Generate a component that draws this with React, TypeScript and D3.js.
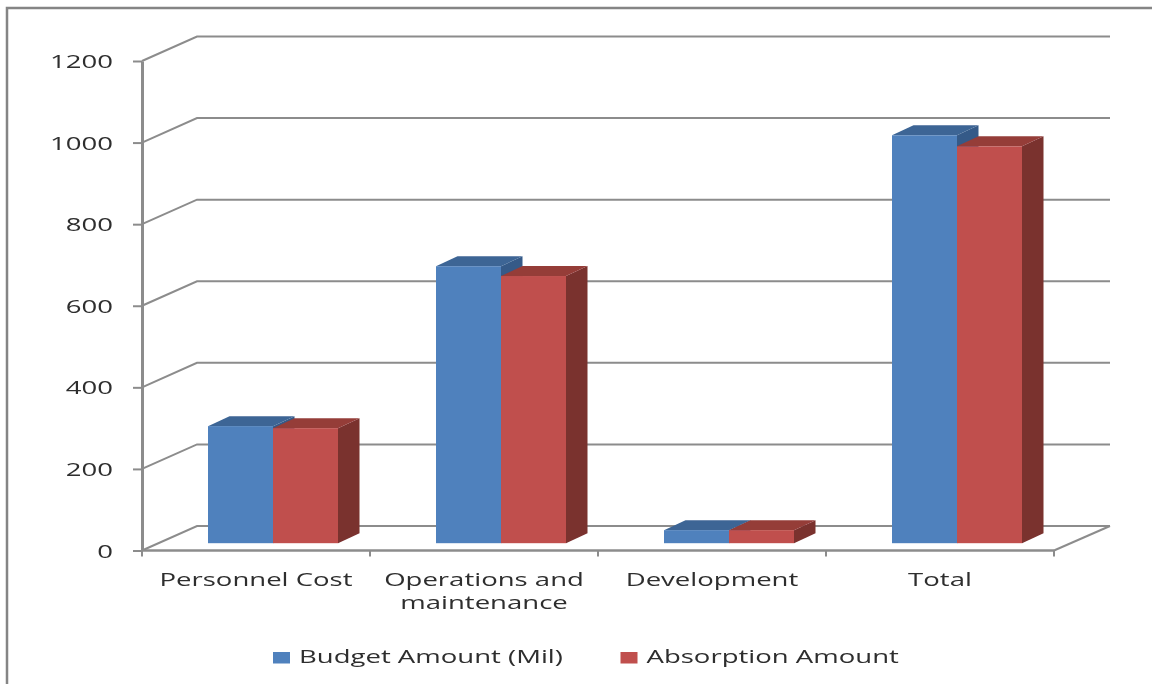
import React, { useEffect, useRef } from 'react';
import * as d3 from 'd3';

const categories = ['Personnel Cost', 'Operations and maintenance', 'Development', 'Total'];
const seriesNames = ['Budget Amount (Mil)', 'Absorption Amount'];
const budget = [287, 679, 32, 1000];
const absorption = [282, 655, 32, 973];
const yTicks = [0, 200, 400, 600, 800, 1000, 1200];
const frontColors = ['#4f81bd', '#c0504d'];
const topColors = ['#3c6595', '#953c39'];
const sideColors = ['#355a88', '#7a302e'];

const width = 1152;
const height = 684;
const depthX = 55;
const depthY = 24.5;
const barDepthX = 21.5;
const barDepthY = 10;
const barBaseOffset = 7.3;
const gridColor = '#8c8c8c';
const textColor = '#2e2e2e';
const font = '"Open Sans", sans-serif';
const stretch = 1.53;

function App() {
    const svgRef = useRef<SVGSVGElement>(null);

    useEffect(() => {
        const svg = d3.select(svgRef.current);
        svg.selectAll('*').remove();

        const defs = svg.append('defs');
        defs.append('filter').attr('id', 'soft')
            .append('feGaussianBlur').attr('stdDeviation', 0.7);

        const root = svg.append('g').attr('filter', 'url(#soft)');

        const x = d3.scaleBand().domain(categories).range([142, 1054]);
        const y = d3.scaleLinear().domain([0, 1200]).range([550.5, 61]);
        const inner = d3.scaleBand().domain(seriesNames).range([66, 196]);
        const values = [budget, absorption];

        // frame
        root.append('path')
            .attr('d', d3.line()([[width + 4, 8], [7, 8], [7, height + 4]]))
            .attr('fill', 'none')
            .attr('stroke', '#858585')
            .attr('stroke-width', 2.5);

        // floor and back wall lines
        const grid = root.append('g')
            .attr('fill', 'none')
            .attr('stroke', gridColor)
            .attr('stroke-width', 2);
        yTicks.forEach(t => {
            grid.append('path').attr('d', d3.line()([
                [x.range()[0], y(t)],
                [x.range()[0] + depthX, y(t) - depthY],
                [1110, y(t) - depthY],
            ]));
        });
        grid.append('path').attr('d', d3.line()([
            [x.range()[1], y(0)],
            [x.range()[1] + depthX + 1, y(0) - depthY],
        ]));

        // axes
        const yAxis = root.append('g')
            .attr('transform', `translate(${x.range()[0]},0)`)
            .call(d3.axisLeft(y).tickValues(yTicks).tickSize(9).tickSizeOuter(0).tickFormat(() => ''));
        yAxis.selectAll('line').attr('stroke', gridColor).attr('stroke-width', 2);
        yAxis.select('.domain').attr('stroke', gridColor).attr('stroke-width', 3);

        root.append('line')
            .attr('x1', x.range()[0]).attr('x2', x.range()[1])
            .attr('y1', y(0)).attr('y2', y(0))
            .attr('stroke', gridColor).attr('stroke-width', 2.5);
        [...categories.map(c => x(c) as number), x.range()[1]].forEach(tx => {
            root.append('line')
                .attr('x1', tx).attr('x2', tx)
                .attr('y1', y(0)).attr('y2', y(0) + 6)
                .attr('stroke', gridColor).attr('stroke-width', 2);
        });

        // bars, blue first so the red one sits over its side
        categories.forEach((cat, c) => {
            seriesNames.forEach((name, s) => {
                const x0 = (x(cat) as number) + (inner(name) as number);
                const x1 = x0 + inner.bandwidth();
                const base = y(0) - barBaseOffset;
                const top = y(values[s][c]) - barBaseOffset;
                const g = root.append('g');
                g.append('path')
                    .attr('d', d3.line()([
                        [x1, top], [x1 + barDepthX, top - barDepthY],
                        [x1 + barDepthX, base - barDepthY], [x1, base],
                    ]) + 'Z')
                    .attr('fill', sideColors[s]);
                g.append('path')
                    .attr('d', d3.line()([
                        [x0, top], [x0 + barDepthX, top - barDepthY],
                        [x1 + barDepthX, top - barDepthY], [x1, top],
                    ]) + 'Z')
                    .attr('fill', topColors[s]);
                g.append('rect')
                    .attr('x', x0).attr('y', top)
                    .attr('width', x1 - x0).attr('height', base - top)
                    .attr('fill', frontColors[s]);
            });
        });

        const addText = (label: string, tx: number, ty: number, anchor: string) => {
            root.append('text')
                .attr('transform', `translate(${tx},${ty}) scale(${stretch},1)`)
                .attr('text-anchor', anchor)
                .attr('font-family', font)
                .attr('font-size', 18)
                .attr('fill', textColor)
                .text(label);
        };

        // tick labels
        yTicks.forEach(t => addText(String(t), 113, y(t) + 7, 'end'));

        // category labels
        categories.forEach(cat => {
            const cx = (x(cat) as number) + x.bandwidth() / 2;
            if (cat === 'Operations and maintenance') {
                addText('Operations and', cx, 586, 'middle');
                addText('maintenance', cx, 609, 'middle');
            } else {
                addText(cat, cx, 586, 'middle');
            }
        });

        // legend
        const legendX = [273, 620.5];
        seriesNames.forEach((name, s) => {
            root.append('rect')
                .attr('x', legendX[s]).attr('y', 652)
                .attr('width', 17).attr('height', 11.5)
                .attr('fill', frontColors[s]);
            addText(name, legendX[s] + 26, 663, 'start');
        });
    }, []);

    return (
        <svg
            ref={svgRef}
            width={width}
            height={height}
            style={{ position: 'absolute', left: 0, top: 0, background: '#fff' }}
        />
    );
}

export default App;
